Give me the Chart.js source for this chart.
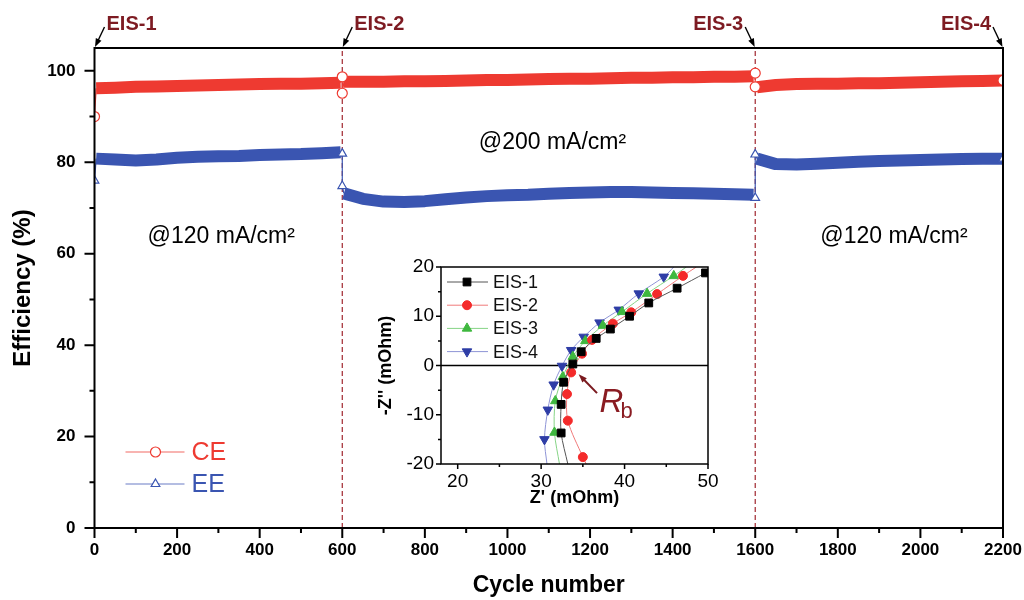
<!DOCTYPE html>
<html>
<head>
<meta charset="utf-8">
<script src="https://cdn.jsdelivr.net/npm/chart.js@4.4.1/dist/chart.umd.min.js"></script>
<style>
    html, body { margin: 0; padding: 0; background: #fff; }
    #wrap { position: relative; width: 1024px; height: 600px; }
    #main { position: absolute; left: 0; top: 0; }
    #inset { position: absolute; left: 370px; top: 245px; }
</style>
</head>
<body>
<div id="wrap">
    <canvas id="main" width="1024" height="600"></canvas>
    <canvas id="inset" width="360" height="270"></canvas>
</div>
<script>
// ---- main plot: efficiency vs cycle ----
const cycles = [0, 4, 50, 100, 150, 200, 250, 300, 350, 400, 450, 500, 550, 596, 600, 600,
    604, 650, 700, 750, 800, 850, 900, 950, 1000, 1050, 1100, 1150, 1200, 1250, 1300, 1350,
    1400, 1450, 1500, 1550, 1596, 1600, 1600,
    1604, 1650, 1700, 1750, 1800, 1850, 1900, 1950, 2000, 2050, 2100, 2150, 2200];
const ceValues = [90.0, 96.2, 96.3, 96.5, 96.6, 96.7, 96.8, 96.9, 97.0, 97.1, 97.2, 97.2, 97.3, 97.4, 98.7, 95.1,
    97.6, 97.6, 97.6, 97.7, 97.7, 97.8, 97.9, 98.0, 98.0, 98.1, 98.2, 98.3, 98.3, 98.4, 98.5, 98.5,
    98.6, 98.6, 98.7, 98.7, 98.8, 99.5, 96.5,
    96.4, 96.9, 97.1, 97.2, 97.2, 97.3, 97.3, 97.4, 97.5, 97.6, 97.7, 97.8, 97.9];
const eeValues = [76.0, 80.8, 80.6, 80.4, 80.6, 81.0, 81.2, 81.3, 81.4, 81.6, 81.7, 81.8, 82.0, 82.2, 81.9, 74.8,
    73.2, 72.0, 71.4, 71.3, 71.5, 71.9, 72.3, 72.6, 72.8, 72.9, 73.1, 73.3, 73.4, 73.5, 73.5, 73.4,
    73.3, 73.2, 73.1, 73.0, 72.9, 72.2, 81.7,
    80.8, 79.6, 79.5, 79.7, 79.9, 80.1, 80.3, 80.4, 80.5, 80.6, 80.7, 80.8, 80.8];
const xTicks = [0, 200, 400, 600, 800, 1000, 1200, 1400, 1600, 1800, 2000, 2200];
const yTicks = [0, 20, 40, 60, 80, 100];
const eisCycles = [0, 600, 1600, 2200];
const eisLabels = ['EIS-1', 'EIS-2', 'EIS-3', 'EIS-4'];
const currentLabels = ['@120 mA/cm²', '@200 mA/cm²', '@120 mA/cm²'];
const seriesNames = ['CE', 'EE'];

// ---- inset: Nyquist plot ----
const eis1Re = [33.2, 32.4, 32.4, 32.7, 33.8, 34.8, 36.6, 38.3, 40.6, 42.9, 46.3, 49.7];
const eis1Im = [-20, -13.7, -7.9, -3.4, 0.3, 2.8, 5.5, 7.4, 10.0, 12.7, 15.7, 18.8];
const eis2Re = [35.4, 35.0, 33.2, 33.1, 33.6, 34.9, 36.1, 38.6, 40.8, 43.9, 47.0, 48.6];
const eis2Im = [-20, -18.6, -11.2, -5.8, -1.4, 2.4, 5.2, 8.5, 10.8, 14.5, 18.2, 20];
const eis3Re = [32.2, 31.6, 31.7, 32.6, 33.8, 35.3, 37.4, 39.7, 42.7, 45.9, 47.4];
const eis3Im = [-20, -13.6, -7.2, -2.3, 1.8, 5.0, 8.1, 10.9, 14.6, 18.2, 20];
const eis4Re = [30.7, 30.4, 30.8, 31.5, 32.5, 33.6, 35.1, 37.0, 39.3, 41.7, 44.7, 45.9];
const eis4Im = [-20, -15.0, -9.0, -3.9, -0.1, 3.1, 5.8, 8.7, 11.3, 14.6, 18.0, 20];
const zReTicks = [20, 30, 40, 50];
const zImTicks = [-20, -10, 0, 10, 20];
const eisNames = ['EIS-1', 'EIS-2', 'EIS-3', 'EIS-4'];

const FONT = '"Liberation Sans", Arial, sans-serif';
Chart.defaults.font.family = FONT;
Chart.defaults.color = '#000';

const RED = '#ee3a31';
const BLUE = '#3a55b1';
const DARKRED = '#7d1b22';

const jumpCycles = [0, 600, 1600];
const markerCycles = [0, 600, 1600, 2200];

const pts = (xs, ys) => xs.map((x, i) => ({ x: x, y: ys[i] }));
const mids = arr => arr.slice(1).map((v, i) => (v + arr[i]) / 2);
const plain = v => String(v);

function arrow(ctx, x1, y1, x2, y2, color, head, width) {
    const a = Math.atan2(y2 - y1, x2 - x1);
    ctx.save();
    ctx.strokeStyle = color;
    ctx.fillStyle = color;
    ctx.lineWidth = width;
    ctx.beginPath();
    ctx.moveTo(x1, y1);
    ctx.lineTo(x2 - Math.cos(a) * head * 0.8, y2 - Math.sin(a) * head * 0.8);
    ctx.stroke();
    ctx.beginPath();
    ctx.moveTo(x2, y2);
    ctx.lineTo(x2 - head * Math.cos(a - 0.35), y2 - head * Math.sin(a - 0.35));
    ctx.lineTo(x2 - head * Math.cos(a + 0.35), y2 - head * Math.sin(a + 0.35));
    ctx.closePath();
    ctx.fill();
    ctx.restore();
}

// frame + outward tick marks, major and minor
const tickMarks = {
    id: 'tickMarks',
    afterDraw(chart, args, o) {
        const ctx = chart.ctx, a = chart.chartArea;
        const xs = chart.scales.x, ys = chart.scales.y;
        ctx.save();
        ctx.strokeStyle = '#000';
        ctx.lineWidth = o.width;
        ctx.lineCap = 'butt';
        ctx.beginPath();
        o.x.forEach(v => { const p = xs.getPixelForValue(v); ctx.moveTo(p, a.bottom); ctx.lineTo(p, a.bottom + o.major); });
        mids(o.x).forEach(v => { const p = xs.getPixelForValue(v); ctx.moveTo(p, a.bottom); ctx.lineTo(p, a.bottom + o.minor); });
        o.y.forEach(v => { const p = ys.getPixelForValue(v); ctx.moveTo(a.left, p); ctx.lineTo(a.left - o.major, p); });
        mids(o.y).forEach(v => { const p = ys.getPixelForValue(v); ctx.moveTo(a.left, p); ctx.lineTo(a.left - o.minor, p); });
        ctx.stroke();
        ctx.strokeRect(a.left, a.top, a.right - a.left, a.bottom - a.top);
        ctx.restore();
    }
};

// dashed markers, EIS labels, current labels, legend
const mainDecor = {
    id: 'mainDecor',
    beforeDatasetsDraw(chart) {
        const ctx = chart.ctx, a = chart.chartArea, xs = chart.scales.x;
        ctx.save();
        ctx.strokeStyle = '#a0262e';
        ctx.lineWidth = 1.2;
        ctx.setLineDash([5, 3]);
        [600, 1600].forEach(c => {
            const p = xs.getPixelForValue(c);
            ctx.beginPath(); ctx.moveTo(p, a.bottom); ctx.lineTo(p, a.top); ctx.stroke();
        });
        ctx.restore();
    },
    afterDraw(chart) {
        const ctx = chart.ctx, a = chart.chartArea, xs = chart.scales.x, ys = chart.scales.y;
        ctx.save();
        // EIS labels with arrows
        ctx.font = 'bold 20px ' + FONT;
        ctx.textAlign = 'center';
        ctx.textBaseline = 'middle';
        eisCycles.forEach((c, i) => {
            const p = xs.getPixelForValue(c);
            const s = c < 1100 ? 1 : -1;
            ctx.fillStyle = DARKRED;
            ctx.fillText(eisLabels[i], p + s * 37, 24);
            arrow(ctx, p + s * 10, a.top - 21, p + s * 0.5, a.top - 1, '#000', 9, 1.4);
        });
        // current density labels
        ctx.font = '23px ' + FONT;
        ctx.fillStyle = '#000';
        [[307, 63.7], [1109, 84.3], [1936, 63.7]].forEach((pos, i) => {
            ctx.fillText(currentLabels[i], xs.getPixelForValue(pos[0]), ys.getPixelForValue(pos[1]));
        });
        // legend
        const items = [
            { name: seriesNames[0], color: RED, line: '#f26a64', style: 'circle', y: 452 },
            { name: seriesNames[1], color: BLUE, line: '#6b7cc6', style: 'triangle', y: 484 }
        ];
        ctx.textAlign = 'left';
        ctx.font = '25px ' + FONT;
        items.forEach(it => {
            ctx.strokeStyle = it.line;
            ctx.lineWidth = 1.2;
            ctx.beginPath(); ctx.moveTo(a.left + 31, it.y); ctx.lineTo(a.left + 90, it.y); ctx.stroke();
            ctx.fillStyle = '#fff';
            ctx.strokeStyle = it.color;
            Chart.helpers.drawPoint(ctx, { pointStyle: it.style, radius: 5, rotation: 0, borderWidth: 1.2 }, a.left + 61, it.y);
            ctx.fillStyle = it.color;
            ctx.fillText(it.name, a.left + 97, it.y + 1);
        });
        ctx.restore();
    }
};

function effDataset(label, values, color, style) {
    return {
        label: label,
        data: pts(cycles, values),
        borderColor: color,
        backgroundColor: '#fff',
        pointStyle: style,
        pointBackgroundColor: '#fff',
        pointBorderColor: color,
        pointBorderWidth: 1.2,
        pointRadius: ctx => (ctx.raw && markerCycles.includes(ctx.raw.x)) ? 5 : 0,
        borderCapStyle: 'butt',
        borderJoinStyle: 'round',
        tension: 0,
        segment: {
            borderWidth: ctx => (jumpCycles.includes(ctx.p0.parsed.x) || jumpCycles.includes(ctx.p1.parsed.x)) ? 1.2 : 12
        }
    };
}

new Chart(document.getElementById('main'), {
    type: 'line',
    data: {
        datasets: [
            effDataset(seriesNames[0], ceValues, RED, 'circle'),
            effDataset(seriesNames[1], eeValues, BLUE, 'triangle')
        ]
    },
    options: {
        responsive: false,
        animation: false,
        layout: { padding: { top: 48, right: 21, left: 0, bottom: 0 } },
        plugins: {
            legend: { display: false },
            tooltip: { enabled: false },
            tickMarks: { x: xTicks, y: yTicks, major: 10, minor: 5, width: 2 }
        },
        scales: {
            x: {
                type: 'linear', min: 0, max: 2200,
                afterBuildTicks: s => { s.ticks = xTicks.map(v => ({ value: v })); },
                afterFit: s => { s.height = 72; s.paddingLeft = 0; s.paddingRight = 0; },
                grid: { display: false, drawTicks: false },
                border: { display: false },
                ticks: { font: { size: 17, weight: 'bold' }, padding: 12, maxRotation: 0, callback: plain },
                title: { display: true, text: 'Cycle number', font: { size: 23, weight: 'bold' }, padding: { top: 0, bottom: 1 } }
            },
            y: {
                type: 'linear', min: 0, max: 105,
                afterBuildTicks: s => { s.ticks = yTicks.map(v => ({ value: v })); },
                afterFit: s => { s.width = 94.5; s.paddingTop = 0; s.paddingBottom = 0; },
                grid: { display: false, drawTicks: false },
                border: { display: false },
                ticks: { font: { size: 17, weight: 'bold' }, padding: 19, callback: plain },
                title: { display: true, text: 'Efficiency (%)', font: { size: 24, weight: 'bold' }, padding: { top: 9, bottom: 0 } }
            }
        }
    },
    plugins: [tickMarks, mainDecor]
});

// ---- inset ----
const insetDecor = {
    id: 'insetDecor',
    beforeDatasetsDraw(chart) {
        const ctx = chart.ctx, a = chart.chartArea, ys = chart.scales.y;
        ctx.save();
        ctx.strokeStyle = '#000';
        ctx.lineWidth = 1.5;
        const p = ys.getPixelForValue(0);
        ctx.beginPath(); ctx.moveTo(a.left, p); ctx.lineTo(a.right, p); ctx.stroke();
        ctx.restore();
    },
    afterDraw(chart) {
        const ctx = chart.ctx, a = chart.chartArea, xs = chart.scales.x, ys = chart.scales.y;
        ctx.save();
        // legend
        ctx.font = '18px ' + FONT;
        ctx.textAlign = 'left';
        ctx.textBaseline = 'middle';
        chart.data.datasets.forEach((ds, i) => {
            const y = a.top + 15 + i * 23.2;
            ctx.strokeStyle = ds.borderColor;
            ctx.lineWidth = 1;
            ctx.beginPath(); ctx.moveTo(a.left + 6, y); ctx.lineTo(a.left + 47, y); ctx.stroke();
            ctx.fillStyle = ds.pointBackgroundColor;
            ctx.strokeStyle = ds.pointBackgroundColor;
            Chart.helpers.drawPoint(ctx, { pointStyle: ds.pointStyle, radius: ds.markerSize, rotation: ds.pointRotation || 0, borderWidth: 1 }, a.left + 26, y);
            ctx.fillStyle = '#111';
            ctx.fillText(eisNames[i], a.left + 52, y + 1);
        });
        // R_b annotation
        arrow(ctx, xs.getPixelForValue(36.7), ys.getPixelForValue(-5.6), xs.getPixelForValue(34.5), ys.getPixelForValue(-1.8), '#7a1a1f', 9, 2);
        ctx.fillStyle = '#8a1c22';
        ctx.font = 'italic 33px ' + FONT;
        ctx.textBaseline = 'alphabetic';
        const rx = xs.getPixelForValue(37.0), ry = ys.getPixelForValue(-9.5);
        ctx.fillText('R', rx, ry);
        ctx.font = '22px ' + FONT;
        ctx.fillText('b', rx + 21, ry + 6);
        ctx.restore();
    }
};

function eisDataset(label, re, im, line, marker, style, size, rot) {
    return {
        label: label,
        data: pts(re, im),
        borderColor: line,
        borderWidth: 1,
        pointStyle: style,
        pointRotation: rot,
        markerSize: size,
        pointBackgroundColor: marker,
        pointBorderColor: marker,
        pointBorderWidth: 1,
        pointRadius: ctx => (ctx.raw && Math.abs(ctx.raw.y) >= 20) ? 0 : size,
        tension: 0.3
    };
}

new Chart(document.getElementById('inset'), {
    type: 'line',
    data: {
        datasets: [
            eisDataset(eisNames[0], eis1Re, eis1Im, '#555555', '#000000', 'rect', 5.5, 0),
            eisDataset(eisNames[1], eis2Re, eis2Im, '#f07a7a', '#f42a2a', 'circle', 4.5, 0),
            eisDataset(eisNames[2], eis3Re, eis3Im, '#86d486', '#3fb83f', 'triangle', 5.5, 0),
            eisDataset(eisNames[3], eis4Re, eis4Im, '#8e94d6', '#2e3da6', 'triangle', 5.5, 180)
        ]
    },
    options: {
        responsive: false,
        animation: false,
        layout: { padding: { top: 22, right: 22, left: 0, bottom: 0 } },
        plugins: {
            legend: { display: false },
            tooltip: { enabled: false },
            tickMarks: { x: zReTicks, y: zImTicks, major: 5, minor: 3, width: 1.5 }
        },
        scales: {
            x: {
                type: 'linear', min: 18, max: 50,
                afterBuildTicks: s => { s.ticks = zReTicks.map(v => ({ value: v })); },
                afterFit: s => { s.height = 51; s.paddingLeft = 0; s.paddingRight = 0; },
                grid: { display: false, drawTicks: false },
                border: { display: false },
                ticks: { font: { size: 19 }, padding: 6, maxRotation: 0, callback: plain },
                title: { display: true, text: "Z' (mOhm)", font: { size: 18, weight: 'bold' }, padding: { top: 0, bottom: 6 } }
            },
            y: {
                type: 'linear', min: -20, max: 20,
                afterBuildTicks: s => { s.ticks = zImTicks.map(v => ({ value: v })); },
                afterFit: s => { s.width = 71; s.paddingTop = 0; s.paddingBottom = 0; },
                grid: { display: false, drawTicks: false },
                border: { display: false },
                ticks: { font: { size: 19 }, padding: 7, callback: plain },
                title: { display: true, text: "-Z'' (mOhm)", font: { size: 18, weight: 'bold' }, padding: { top: 5, bottom: 0 } }
            }
        }
    },
    plugins: [tickMarks, insetDecor]
});
</script>
</body>
</html>
